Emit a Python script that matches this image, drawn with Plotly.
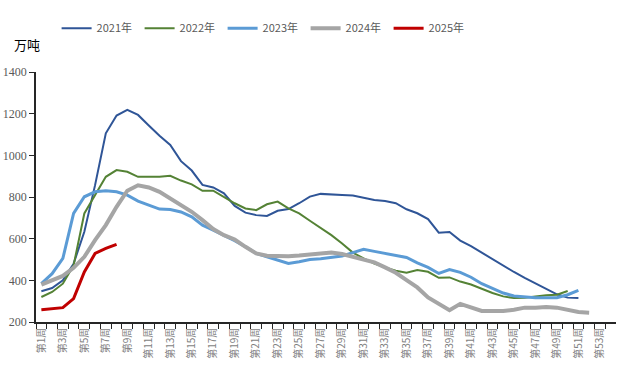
import plotly.graph_objects as go

weeks = [f"第{i}周" for i in range(1, 54)]
tick_labels = [w if (i % 2 == 0) else "" for i, w in enumerate(weeks)]

y2021 = [348, 363, 400, 480, 633, 857, 1106, 1191, 1218, 1194, 1143, 1094, 1050, 972, 927, 858, 846, 818,
         757, 725, 713, 709, 734, 742, 770, 802, 815, 811, 810, 807, 797, 786, 781, 770, 741, 722, 694, 629,
         632, 591, 564, 532, 504, 469, 440, 412, 387, 360, 333, 317, 315]
y2022 = [320, 344, 384, 472, 721, 809, 897, 929, 921, 897, 897, 897, 902, 879, 861, 830, 830, 798, 770, 745,
         737, 765, 778, 745, 721, 686, 652, 617, 577, 533, 505, 481, 462, 446, 436, 449, 441, 412, 414, 394,
         380, 360, 339, 323, 315, 317, 323, 328, 331, 349]
y2023 = [384, 432, 505, 721, 801, 825, 830, 825, 809, 780, 761, 742, 740, 728, 705, 665, 641, 617, 590, 561,
         529, 513, 497, 481, 489, 500, 504, 509, 517, 533, 549, 539, 529, 521, 510, 484, 462, 433, 452, 438,
         415, 384, 360, 339, 325, 320, 317, 317, 317, 331, 352]
y2024 = [379, 400, 421, 460, 513, 593, 665, 753, 830, 856, 846, 825, 793, 766, 729, 689, 646, 617, 596, 561,
         529, 518, 516, 516, 519, 524, 530, 533, 526, 513, 500, 486, 462, 436, 401, 366, 318, 286, 257, 287,
         272, 253, 253, 253, 259, 269, 269, 272, 269, 256, 248, 245]
y2025 = [259, 264, 269, 312, 440, 529, 553, 573]

series = [
    ("2021年", y2021, "#2F5597", 2),
    ("2022年", y2022, "#548235", 2),
    ("2023年", y2023, "#5B9BD5", 3),
    ("2024年", y2024, "#A5A5A5", 4),
    ("2025年", y2025, "#C00000", 3),
]

fig = go.Figure()
for name, ys, color, width in series:
    fig.add_trace(go.Scatter(
        x=weeks[:len(ys)], y=ys, name=name, mode="lines",
        line=dict(color=color, width=width),
    ))

fig.update_layout(
    width=622, height=370,
    margin=dict(l=36, r=6, t=72, b=48, autoexpand=False),
    plot_bgcolor="white", paper_bgcolor="white",
    showlegend=True,
    legend=dict(
        orientation="h", xref="container", yref="container",
        x=0.091, y=0.963, xanchor="left", yanchor="top",
        font=dict(family="Noto Sans CJK SC", size=11, color="#595959"),
        entrywidth=38, entrywidthmode="pixels",
        bgcolor="rgba(0,0,0,0)",
    ),
    xaxis=dict(
        type="category", categoryorder="array", categoryarray=weeks,
        range=[-0.5, 53.5], automargin=False,
        tickmode="array", tickvals=weeks, ticktext=tick_labels,
        tickson="boundaries", ticks="outside", ticklen=5, tickcolor="#262626",
        tickangle=-90,
        tickfont=dict(family="Noto Sans CJK SC", size=10, color="#7F7F7F"),
        showline=True, linecolor="#262626", linewidth=1.5,
        showgrid=False, zeroline=False,
    ),
    yaxis=dict(
        range=[200, 1400], dtick=200, automargin=False,
        ticks="outside", ticklen=5, tickcolor="#262626",
        tickfont=dict(family="Liberation Serif", size=12, color="#595959"),
        showline=True, linecolor="#262626", linewidth=1.5,
        showgrid=False, zeroline=False,
    ),
    annotations=[dict(
        text="万吨", xref="paper", yref="paper", x=-0.016, y=1.108,
        xanchor="center", yanchor="middle", showarrow=False,
        font=dict(family="Noto Sans CJK SC", size=13, color="#000000"),
    )],
)

fig.write_html("out.html", config={"displayModeBar": False},
               post_script="document.body.style.margin='0';")
